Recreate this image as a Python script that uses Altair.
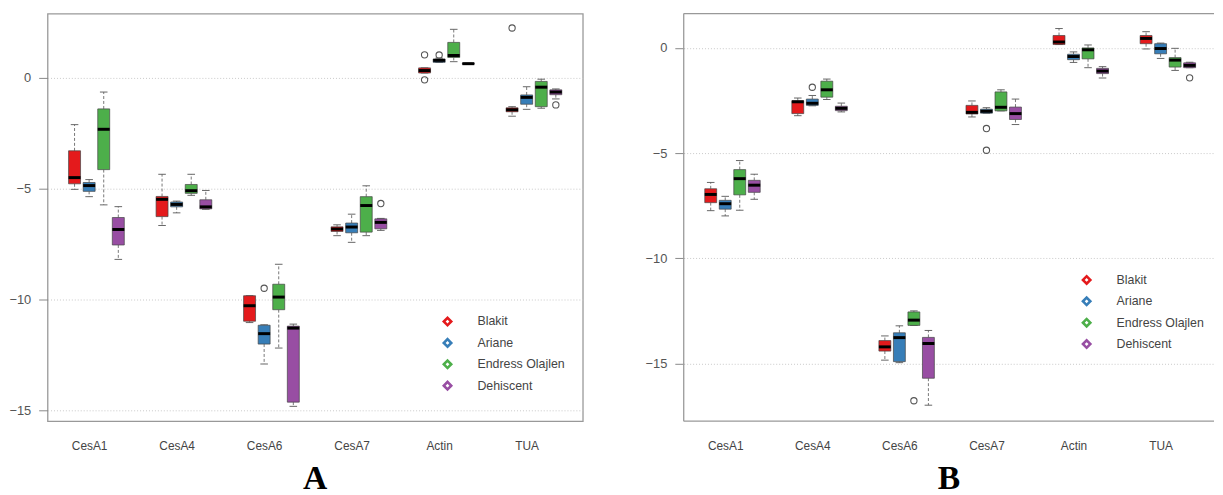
import altair as alt
import pandas as pd

genes = ["CesA1", "CesA4", "CesA6", "CesA7", "Actin", "TUA"]
cultivars = ["Blakit", "Ariane", "Endress Olajlen", "Dehiscent"]
colors = ["#E41A1C", "#377EB8", "#4DAF4A", "#984EA3"]

# ---- Panel A: box statistics, gene-major order (Blakit, Ariane, Endress Olajlen, Dehiscent)
A_whi = [-2.11, -4.59, -0.64, -5.81,  -4.35, -5.56, -4.35, -5.08,  -9.83, -11.14, -8.41, -11.11,
         -6.63, -6.15, -4.87, -6.34,   0.45, 0.89, 2.19, 0.66,     -1.30, -0.40, -0.06, -0.50]
A_q3 = [-3.29, -4.72, -1.40, -6.30,  -5.35, -5.60, -4.81, -5.50,  -9.83, -11.16, -9.31, -11.20,
        -6.72, -6.55, -5.36, -6.36,   0.45, 0.85, 1.60, 0.66,     -1.35, -0.77, -0.16, -0.54]
A_med = [-4.50, -4.86, -2.32, -6.84,  -5.48, -5.71, -5.09, -5.82,  -10.28, -11.54, -9.89, -11.29,
         -6.82, -6.73, -5.76, -6.52,   0.33, 0.79, 1.01, 0.64,     -1.44, -0.88, -0.42, -0.64]
A_q1 = [-4.78, -5.12, -4.14, -7.54,  -6.26, -5.82, -5.21, -5.91,  -10.98, -12.01, -10.46, -14.63,
        -6.93, -6.99, -6.96, -6.81,   0.22, 0.70, 0.92, 0.62,     -1.53, -1.19, -1.30, -0.76]
A_wlo = [-5.03, -5.36, -5.73, -8.19,  -6.66, -6.09, -5.30, -5.93,  -11.04, -12.91, -12.19, -14.82,
         -7.12, -7.42, -7.12, -6.88,   0.22, 0.70, 0.73, 0.62,     -1.73, -1.42, -1.37, -0.95]
A_out_gene = ["CesA6", "CesA7", "Actin", "Actin", "Actin", "TUA", "TUA"]
A_out_cult = ["Ariane", "Dehiscent", "Blakit", "Blakit", "Ariane", "Blakit", "Dehiscent"]
A_out_val = [-9.49, -5.67, 1.04, -0.09, 1.03, 2.25, -1.22]

# ---- Panel B
B_whi = [-6.39, -7.05, -5.35, -6.00,  -2.38, -2.26, -1.48, -2.62,  -13.68, -13.20, -12.49, -13.42,
         -2.52, -2.84, -1.99, -2.43,   0.92, -0.19, 0.14, -0.89,    0.77, 0.23, -0.02, -0.68]
B_q3 = [-6.69, -7.24, -5.78, -6.29,  -2.51, -2.43, -1.58, -2.77,  -13.90, -13.53, -12.54, -13.75,
        -2.73, -2.91, -2.09, -2.81,   0.59, -0.30, 0.00, -0.97,    0.59, 0.20, -0.46, -0.71]
B_med = [-6.96, -7.40, -6.21, -6.52,  -2.56, -2.63, -1.99, -2.87,  -14.20, -13.76, -12.93, -14.04,
         -3.06, -3.01, -2.82, -3.12,   0.28, -0.41, -0.09, -1.10,   0.45, -0.03, -0.58, -0.83]
B_q1 = [-7.35, -7.66, -6.98, -6.86,  -3.12, -2.73, -2.34, -2.98,  -14.40, -14.90, -13.18, -15.69,
        -3.14, -3.10, -2.99, -3.40,   0.16, -0.56, -0.52, -1.22,    0.20, -0.28, -0.91, -0.94]
B_wlo = [-7.73, -7.98, -7.71, -7.19,  -3.22, -2.75, -2.45, -3.04,  -14.83, -14.95, -13.18, -16.97,
         -3.28, -3.10, -2.99, -3.64,   0.16, -0.69, -0.94, -1.43,  -0.05, -0.50, -1.07, -0.94]
B_out_gene = ["CesA4", "CesA6", "CesA7", "CesA7", "TUA"]
B_out_cult = ["Ariane", "Endress Olajlen", "Ariane", "Ariane", "Dehiscent"]
B_out_val = [-1.87, -16.76, -3.83, -4.86, -1.42]

# hollow diamond legend symbol (outer diamond with an inner hole of opposite winding)
RING_DIAMOND = "M-1,0L0,-1L1,0L0,1Z M-0.34,0L0,0.34L0.34,0L0,-0.34Z"


def slot(g, c):
    return 6 * genes.index(g) + cultivars.index(c) + 1


def box_table(whi, q3, med, q1, wlo):
    rows = []
    i = 0
    for g in genes:
        for c in cultivars:
            rows.append(dict(gene=g, cultivar=c, slot=slot(g, c),
                             whi=whi[i], q3=q3[i], med=med[i], q1=q1[i], wlo=wlo[i]))
            i += 1
    return pd.DataFrame(rows)


def out_table(gs, cs, vs):
    return pd.DataFrame(dict(gene=gs, cultivar=cs, value=vs,
                             slot=[slot(g, c) for g, c in zip(gs, cs)]))


label_expr = "['CesA1','CesA4','CesA6','CesA7','Actin','TUA'][round((datum.value-2)/6)]"


def panel(df, dfo, xdom, ydom, w, h, legx, legy, letter, frame):
    xs = alt.Scale(domain=xdom, nice=False, zero=False)
    ys = alt.Scale(domain=ydom, nice=False, zero=False)
    xaxis = alt.Axis(values=[2, 8, 14, 20, 26, 32], labelExpr=label_expr, ticks=False,
                     domain=False, grid=False, title=None, labelFontSize=12,
                     labelFont="Liberation Sans", labelColor="#444", labelPadding=20)
    yaxis = alt.Axis(values=[0, -5, -10, -15], grid=True, gridDash=[1, 2], gridColor="#c8c8c8",
                     domain=False, tickColor="#888", tickSize=9, labelFontSize=13,
                     labelFont="Liberation Sans", labelColor="#555", labelPadding=8,
                     title=None, minExtent=38, maxExtent=38)
    base = alt.Chart(df).transform_calculate(
        xl="datum.slot - 0.41", xr="datum.slot + 0.41",
        cl="datum.slot - 0.26", cr="datum.slot + 0.26")
    legend_layer = base.mark_point(shape="diamond", filled=True, opacity=0).encode(
        x=alt.X("slot:Q", scale=xs, axis=xaxis),
        y=alt.Y("med:Q", scale=ys, axis=yaxis),
        fill=alt.Fill("cultivar:N",
                      scale=alt.Scale(domain=cultivars, range=colors),
                      legend=alt.Legend(orient="none", legendX=legx, legendY=legy,
                                        title=None, symbolType=RING_DIAMOND,
                                        symbolSize=125, symbolStrokeWidth=0,
                                        symbolOpacity=1,
                                        labelFont="Liberation Sans", labelFontSize=12.5,
                                        labelColor="#444", labelOffset=24,
                                        rowPadding=8.6, padding=0)))
    wh_hi = base.mark_rule(color="#555", strokeDash=[3, 2], strokeWidth=0.8).encode(
        x="slot:Q", y="q3:Q", y2="whi:Q")
    wh_lo = base.mark_rule(color="#555", strokeDash=[3, 2], strokeWidth=0.8).encode(
        x="slot:Q", y="q1:Q", y2="wlo:Q")
    cap_hi = base.mark_rule(color="#555", strokeWidth=0.9).encode(x="cl:Q", x2="cr:Q", y="whi:Q")
    cap_lo = base.mark_rule(color="#555", strokeWidth=0.9).encode(x="cl:Q", x2="cr:Q", y="wlo:Q")
    boxes = base.mark_rect(stroke="#444", strokeWidth=0.7).encode(
        x="xl:Q", x2="xr:Q", y="q1:Q", y2="q3:Q",
        fill=alt.Fill("cultivar:N", scale=alt.Scale(domain=cultivars, range=colors), legend=None))
    med = base.mark_rule(color="black", strokeWidth=3).encode(x="xl:Q", x2="xr:Q", y="med:Q")
    outl = alt.Chart(dfo).mark_point(shape="circle", filled=False, color="#555", size=40,
                                      strokeWidth=1.1, opacity=1).encode(x="slot:Q", y="value:Q")
    layers = [legend_layer, wh_hi, wh_lo, cap_hi, cap_lo, boxes, med, outl]
    props = dict(width=w, height=h,
                 title=alt.TitleParams(letter, orient="bottom", anchor="middle", fontSize=34,
                                       font="Liberation Serif", fontWeight="bold",
                                       color="black", offset=11))
    if frame == "full":
        props["view"] = alt.ViewBackground(stroke="#999", strokeWidth=1.3)
    else:
        one = alt.Chart(pd.DataFrame({"k": [0]}))
        top = one.mark_rule(color="#999", strokeWidth=1.3).encode(
            x=alt.value(0), x2=alt.value(w), y=alt.value(0))
        bot = one.mark_rule(color="#999", strokeWidth=1.3).encode(
            x=alt.value(0), x2=alt.value(w), y=alt.value(h))
        left = one.mark_rule(color="#999", strokeWidth=1.3).encode(
            x=alt.value(0), y=alt.value(0), y2=alt.value(h))
        layers = layers + [top, bot, left]
        props["view"] = alt.ViewBackground(stroke=None)
    return alt.layer(*layers).resolve_scale(fill="independent").properties(**props)


dfA = box_table(A_whi, A_q3, A_med, A_q1, A_wlo)
dfB = box_table(B_whi, B_q3, B_med, B_q1, B_wlo)
oA = out_table(A_out_gene, A_out_cult, A_out_val)
oB = out_table(B_out_gene, B_out_cult, B_out_val)

pA = panel(dfA, oA, [-0.85, 35.85], [-15.49, 2.9], 541, 412, 398, 305, "A", "full")
pB = panel(dfB, oB, [-0.86, 35.68], [-17.73, 1.63], 536, 412, 401, 263, "B", "open")

chart = alt.hconcat(pA, pB, spacing=61).resolve_scale(
    fill="independent", x="independent", y="independent"
).properties(padding={"left": 0, "top": 2, "right": 0, "bottom": 0}).configure_view(
    stroke="#999").configure(background="white")

chart.save("out.html", embed_options={"renderer": "svg", "actions": False})
